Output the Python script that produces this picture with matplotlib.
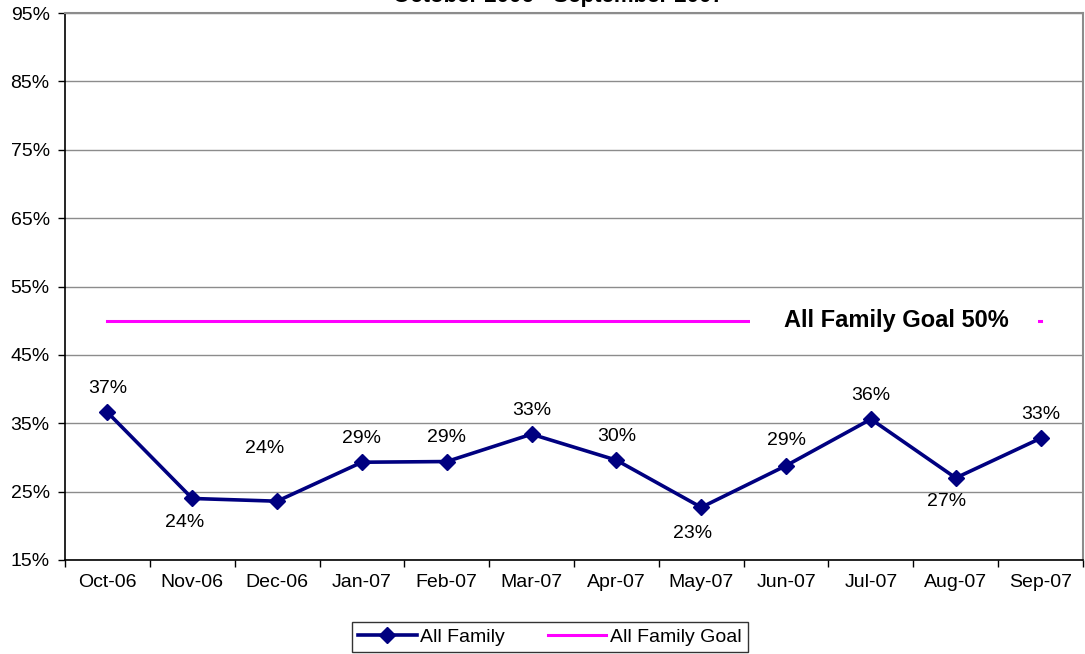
import matplotlib
matplotlib.use("Agg")
import matplotlib.pyplot as plt
import numpy as np

plt.rcParams['font.family'] = ['Liberation Sans', 'DejaVu Sans']

# monthly results (percent)
months = ['Oct-06', 'Nov-06', 'Dec-06', 'Jan-07', 'Feb-07', 'Mar-07',
          'Apr-07', 'May-07', 'Jun-07', 'Jul-07', 'Aug-07', 'Sep-07']
all_family = [36.6, 24.0, 23.6, 29.3, 29.4, 33.4, 29.6, 22.7, 28.8, 35.6, 27.0, 32.8]
goal = [50] * 12
y_ticks = [15, 25, 35, 45, 55, 65, 75, 85, 95]

# label offsets in pixels (dx, dy) - excel labels were nudged around
label_off = [(0, 24), (-8, -24), (-12, 53), (0, 24), (0, 24), (0, 24),
             (0, 24), (-9, -26), (0, 25), (0, 24), (-9, -24), (0, 24)]

FS = 14

fig = plt.figure(figsize=(10.85, 6.54), dpi=100)
ax = fig.add_axes([65/1085, 1 - 560/654, (1083 - 65)/1085, (560 - 13)/654])

x = np.arange(len(months))
ax.plot(x, all_family, color='#000080', lw=2.6, marker='D', ms=8,
        label='All Family', zorder=5)
ax.plot(x, goal, color='#FF00FF', lw=2.2, label='All Family Goal', zorder=2)

# white patch under the goal caption, hides part of the line
ax.fill_between([7.58, 10.97], 48.5, 51.5, color='white', lw=0, zorder=3)
ax.text(9.3, 50, 'All Family Goal 50%', ha='center', va='center',
        fontsize=17, fontweight='bold', zorder=4)

for i, v in enumerate(all_family):
    dx, dy = label_off[i]
    ax.annotate('%d%%' % round(v), (i, v), xytext=(dx * 0.72, dy * 0.72),
                textcoords='offset points', ha='center', va='center',
                fontsize=FS, zorder=6)

ax.set_xlim(-0.5, 11.5)
ax.set_ylim(15, 95)
ax.set_yticks(y_ticks)
ax.set_yticklabels(['%d%%' % t for t in y_ticks], fontsize=FS)
ax.yaxis.grid(True, color='#8c8c8c', lw=1.0)
ax.set_axisbelow(True)

ax.set_xticks(np.arange(-0.5, 12, 1))
ax.set_xticklabels([])
ax.set_xticks(x, minor=True)
ax.set_xticklabels(months, minor=True, fontsize=FS)
ax.tick_params(axis='x', which='major', length=5, width=1, direction='out')
ax.tick_params(axis='x', which='minor', length=0, pad=10)
ax.tick_params(axis='y', length=5, width=1, pad=6)

for s in ['top', 'right']:
    ax.spines[s].set_color('#8c8c8c')
    ax.spines[s].set_linewidth(1.5)
for s in ['left', 'bottom']:
    ax.spines[s].set_color('black')
    ax.spines[s].set_linewidth(1.2)

# title sits mostly above the image edge, like the source
fig.text(558/1085, 1 - 2/654, 'October 2006 - September 2007', ha='center',
         va='baseline', fontsize=16, fontweight='bold')

leg = fig.legend(loc='center', bbox_to_anchor=(550/1085, 1 - 637/654), ncol=2,
                 fontsize=FS, frameon=True, fancybox=False, handlelength=3.0,
                 columnspacing=2.2, handletextpad=0.2, borderpad=0.3)
leg.get_frame().set_edgecolor('black')
leg.get_frame().set_linewidth(1.0)

plt.savefig('out.png', dpi=100)
